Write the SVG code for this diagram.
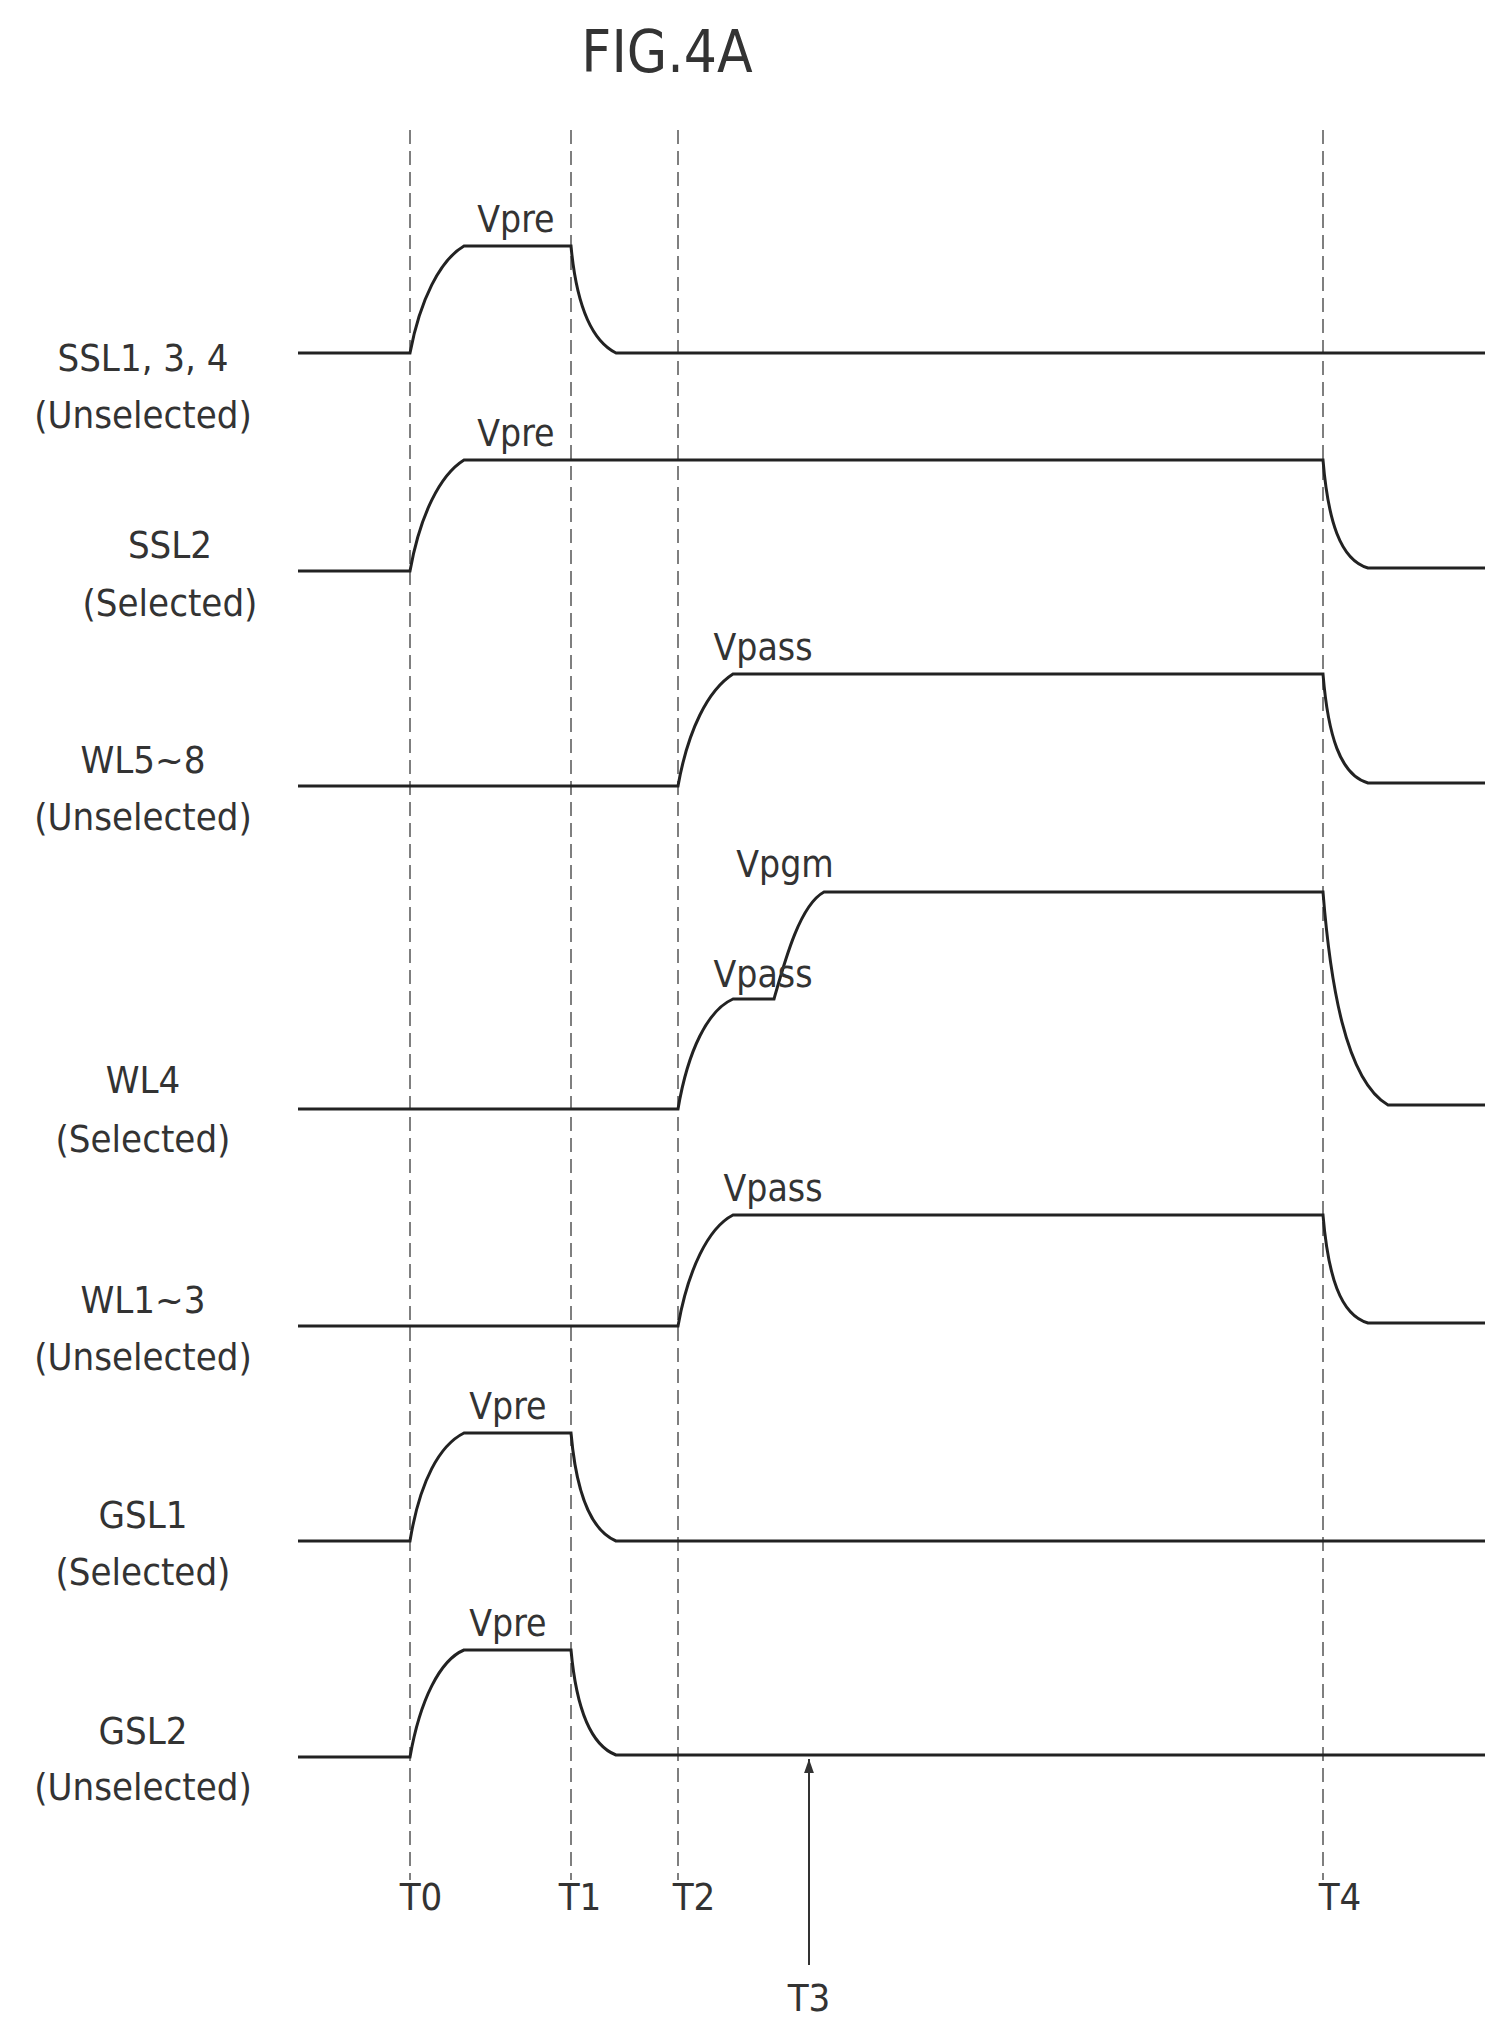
<svg xmlns="http://www.w3.org/2000/svg" width="1505" height="2018" viewBox="0 0 1505 2018">
<style>
text{font-family:"Liberation Sans Narrow","DejaVu Sans Condensed","Liberation Sans",sans-serif;fill:#333;}
.lb{font-size:38px;text-anchor:middle;}
.v{font-size:37px;text-anchor:middle;}
.sig{fill:none;stroke:#222;stroke-width:3;}
.dash{stroke:#555;stroke-width:1.5;stroke-dasharray:14 7;}
</style>
<defs><marker id="ah" markerWidth="14" markerHeight="20" refX="20" refY="7" orient="auto" markerUnits="userSpaceOnUse" viewBox="0 0 20 14"><path d="M0,0 L20,7 L0,14 Z" fill="#333"/></marker></defs>
<rect width="1505" height="2018" fill="#fff"/>
<text x="667" y="72" style="font-size:58px;text-anchor:middle">FIG.4A</text>
<g id="connectors">
<line class="dash" x1="410" y1="130" x2="410" y2="1880"/>
<line class="dash" x1="571" y1="130" x2="571" y2="1880"/>
<line class="dash" x1="678" y1="130" x2="678" y2="1880"/>
<line class="dash" x1="1323" y1="130" x2="1323" y2="1880"/>
<line x1="809" y1="1965" x2="809" y2="1759" stroke="#333" stroke-width="2" marker-end="url(#ah)"/>
</g>
<g id="SSL134"><path class="sig" d="M298,353 H410 C420,300 440,260 464,246 H571 C576,300 590,340 616,353 H1485"/>
<text class="lb" x="143" y="371">SSL1, 3, 4</text><text class="lb" x="143" y="428">(Unselected)</text><text class="v" x="516" y="232">Vpre</text></g>
<g id="SSL2"><path class="sig" d="M298,571 H410 C420,515 440,475 464,460 H1323 C1328,520 1340,560 1368,568 H1485"/>
<text class="lb" x="170" y="558">SSL2</text><text class="lb" x="170" y="616">(Selected)</text><text class="v" x="516" y="446">Vpre</text></g>
<g id="WL58"><path class="sig" d="M298,786 H678 C688,730 708,690 733,674 H1323 C1328,735 1340,775 1368,783 H1485"/>
<text class="lb" x="143" y="773">WL5~8</text><text class="lb" x="143" y="830">(Unselected)</text><text class="v" x="763" y="660">Vpass</text></g>
<g id="WL4"><path class="sig" d="M298,1109 H678 C688,1050 708,1010 733,999 H774 C785,960 800,905 824,892 H1323 C1330,980 1345,1080 1388,1105 H1485"/>
<text class="lb" x="143" y="1093">WL4</text><text class="lb" x="143" y="1152">(Selected)</text><text class="v" x="785" y="877">Vpgm</text><text class="v" x="763" y="987">Vpass</text></g>
<g id="WL13"><path class="sig" d="M298,1326 H678 C688,1270 708,1228 733,1215 H1323 C1328,1275 1340,1315 1368,1323 H1485"/>
<text class="lb" x="143" y="1313">WL1~3</text><text class="lb" x="143" y="1370">(Unselected)</text><text class="v" x="773" y="1201">Vpass</text></g>
<g id="GSL1"><path class="sig" d="M298,1541 H410 C420,1480 440,1445 464,1433 H571 C576,1490 590,1530 616,1541 H1485"/>
<text class="lb" x="143" y="1528">GSL1</text><text class="lb" x="143" y="1585">(Selected)</text><text class="v" x="508" y="1419">Vpre</text></g>
<g id="GSL2"><path class="sig" d="M298,1757 H410 C420,1700 440,1660 464,1650 H571 C576,1705 590,1745 616,1755 H1485"/>
<text class="lb" x="143" y="1744">GSL2</text><text class="lb" x="143" y="1800">(Unselected)</text><text class="v" x="508" y="1636">Vpre</text></g>
<g id="times">
<text class="lb" x="421" y="1910">T0</text><text class="lb" x="580" y="1910">T1</text><text class="lb" x="694" y="1910">T2</text><text class="lb" x="1340" y="1910">T4</text><text class="lb" x="809" y="2011">T3</text>
</g>
</svg>
